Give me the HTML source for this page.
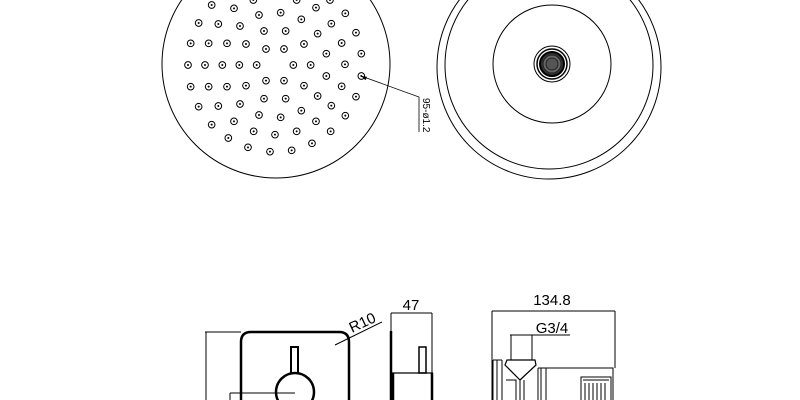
<!DOCTYPE html>
<html><head><meta charset="utf-8"><style>
html,body{margin:0;padding:0;background:#fff;}
svg{display:block;}
text{font-family:"Liberation Sans","DejaVu Sans",sans-serif;fill:#000;}
</style></head><body>
<svg width="800" height="400" viewBox="0 0 800 400" xmlns="http://www.w3.org/2000/svg">
<g fill="none" stroke="#000">
<!-- left shower head -->
<circle cx="276" cy="64" r="114" stroke-width="1"/>
<g transform="translate(160,0) scale(0.3333)" stroke-width="3">
<circle cx="155" cy="15" r="10"/><circle cx="222" cy="25" r="10"/><circle cx="297" cy="45" r="10"/><circle cx="362" cy="38" r="10"/><circle cx="424" cy="58" r="10"/><circle cx="468" cy="23" r="10"/><circle cx="556" cy="40" r="10"/><circle cx="280" cy="0" r="10"/><circle cx="410" cy="0" r="10"/><circle cx="510" cy="0" r="10"/>
<circle cx="116" cy="69" r="10"/><circle cx="175" cy="72" r="10"/><circle cx="240" cy="78" r="10"/><circle cx="312" cy="93" r="10"/><circle cx="377" cy="93" r="10"/><circle cx="473" cy="101" r="10"/><circle cx="514" cy="71" r="10"/><circle cx="588" cy="98" r="10"/>
<circle cx="92" cy="130" r="10"/><circle cx="146" cy="130" r="10"/><circle cx="201" cy="130" r="10"/><circle cx="258" cy="132" r="10"/><circle cx="318" cy="147" r="10"/><circle cx="372" cy="147" r="10"/><circle cx="432" cy="132" r="10"/><circle cx="499" cy="161" r="10"/><circle cx="545" cy="129" r="10"/><circle cx="604" cy="161" r="10"/>
<circle cx="84" cy="195" r="10"/><circle cx="135" cy="195" r="10"/><circle cx="187" cy="195" r="10"/><circle cx="238" cy="195" r="10"/><circle cx="290" cy="195" r="10"/><circle cx="400" cy="195" r="10"/><circle cx="452" cy="195" r="10"/><circle cx="555" cy="193" r="10"/>
<circle cx="92" cy="260" r="10"/><circle cx="146" cy="260" r="10"/><circle cx="201" cy="260" r="10"/><circle cx="258" cy="257" r="10"/><circle cx="318" cy="242" r="10"/><circle cx="372" cy="242" r="10"/><circle cx="432" cy="257" r="10"/><circle cx="499" cy="228" r="10"/><circle cx="545" cy="259" r="10"/><circle cx="604" cy="228" r="10"/>
<circle cx="116" cy="320" r="10"/><circle cx="175" cy="318" r="10"/><circle cx="240" cy="312" r="10"/><circle cx="312" cy="296" r="10"/><circle cx="377" cy="296" r="10"/><circle cx="473" cy="288" r="10"/><circle cx="514" cy="317" r="10"/><circle cx="588" cy="290" r="10"/>
<circle cx="155" cy="374" r="10"/><circle cx="222" cy="364" r="10"/><circle cx="297" cy="345" r="10"/><circle cx="362" cy="352" r="10"/><circle cx="424" cy="332" r="10"/><circle cx="468" cy="364" r="10"/><circle cx="556" cy="347" r="10"/>
<circle cx="205" cy="414" r="10"/><circle cx="281" cy="394" r="10"/><circle cx="345" cy="404" r="10"/><circle cx="410" cy="394" r="10"/><circle cx="512" cy="394" r="10"/>
<circle cx="264" cy="442" r="10"/><circle cx="330" cy="455" r="10"/><circle cx="395" cy="451" r="10"/><circle cx="456" cy="430" r="10"/>
</g>
<g transform="translate(160,0) scale(0.3333)" fill="#000" stroke="none">
<circle cx="155" cy="15" r="3"/><circle cx="222" cy="25" r="3"/><circle cx="297" cy="45" r="3"/><circle cx="362" cy="38" r="3"/><circle cx="424" cy="58" r="3"/><circle cx="468" cy="23" r="3"/><circle cx="556" cy="40" r="3"/><circle cx="280" cy="0" r="3"/><circle cx="410" cy="0" r="3"/><circle cx="510" cy="0" r="3"/>
<circle cx="116" cy="69" r="3"/><circle cx="175" cy="72" r="3"/><circle cx="240" cy="78" r="3"/><circle cx="312" cy="93" r="3"/><circle cx="377" cy="93" r="3"/><circle cx="473" cy="101" r="3"/><circle cx="514" cy="71" r="3"/><circle cx="588" cy="98" r="3"/>
<circle cx="92" cy="130" r="3"/><circle cx="146" cy="130" r="3"/><circle cx="201" cy="130" r="3"/><circle cx="258" cy="132" r="3"/><circle cx="318" cy="147" r="3"/><circle cx="372" cy="147" r="3"/><circle cx="432" cy="132" r="3"/><circle cx="499" cy="161" r="3"/><circle cx="545" cy="129" r="3"/><circle cx="604" cy="161" r="3"/>
<circle cx="84" cy="195" r="3"/><circle cx="135" cy="195" r="3"/><circle cx="187" cy="195" r="3"/><circle cx="238" cy="195" r="3"/><circle cx="290" cy="195" r="3"/><circle cx="400" cy="195" r="3"/><circle cx="452" cy="195" r="3"/><circle cx="555" cy="193" r="3"/>
<circle cx="92" cy="260" r="3"/><circle cx="146" cy="260" r="3"/><circle cx="201" cy="260" r="3"/><circle cx="258" cy="257" r="3"/><circle cx="318" cy="242" r="3"/><circle cx="372" cy="242" r="3"/><circle cx="432" cy="257" r="3"/><circle cx="499" cy="228" r="3"/><circle cx="545" cy="259" r="3"/><circle cx="604" cy="228" r="3"/>
<circle cx="116" cy="320" r="3"/><circle cx="175" cy="318" r="3"/><circle cx="240" cy="312" r="3"/><circle cx="312" cy="296" r="3"/><circle cx="377" cy="296" r="3"/><circle cx="473" cy="288" r="3"/><circle cx="514" cy="317" r="3"/><circle cx="588" cy="290" r="3"/>
<circle cx="155" cy="374" r="3"/><circle cx="222" cy="364" r="3"/><circle cx="297" cy="345" r="3"/><circle cx="362" cy="352" r="3"/><circle cx="424" cy="332" r="3"/><circle cx="468" cy="364" r="3"/><circle cx="556" cy="347" r="3"/>
<circle cx="205" cy="414" r="3"/><circle cx="281" cy="394" r="3"/><circle cx="345" cy="404" r="3"/><circle cx="410" cy="394" r="3"/><circle cx="512" cy="394" r="3"/>
<circle cx="264" cy="442" r="3"/><circle cx="330" cy="455" r="3"/><circle cx="395" cy="451" r="3"/><circle cx="456" cy="430" r="3"/>
</g>
<path d="M361,76 L419,97 L419,132" stroke-width="0.8"/>
<path d="M361,76 l6,0.8 l-1.5,3.5z" fill="#000" stroke="none"/>
<!-- right shower head -->
<circle cx="549" cy="67" r="112" stroke-width="1"/>
<circle cx="549" cy="65" r="104" stroke-width="1"/>
<circle cx="552" cy="64" r="59" stroke-width="1"/>
<circle cx="552" cy="64" r="18" stroke-width="1"/>
<circle cx="552" cy="64" r="15" stroke-width="1.5"/>
<circle cx="552" cy="64" r="12" fill="#333" stroke-width="2"/>
<circle cx="552" cy="64" r="9" fill="#666" stroke="#222" stroke-width="1"/>
<circle cx="552" cy="64" r="6" fill="#555" stroke="#222" stroke-width="1"/>
<!-- front view bottom -->
<path d="M241,400 V342 Q241,332 251,332 H339 Q349,332 349,342 V400" stroke-width="2.5"/>
<path d="M205,332 H241 M206,332 V400" stroke-width="1"/>
<rect x="291" y="347" width="7" height="30" stroke-width="2"/>
<circle cx="295" cy="392" r="19" stroke-width="2.5" fill="#fff"/>
<path d="M230,393 H295 M230,393 V400" stroke-width="1"/>
<path d="M335,345 L382,322" stroke-width="1"/>
<!-- side view -->
<path d="M391,331 V400" stroke-width="2.5"/>
<path d="M391,313 H432 M391,313 V331 M432,313 V400" stroke-width="1"/>
<path d="M392,373 H433" stroke-width="1.2"/>
<path d="M393,373 V400 M432,373 V400" stroke-width="2.5"/>
<rect x="419" y="347" width="7" height="26" stroke-width="1.5"/>
<!-- right view -->
<path d="M492,311 H615 M492,311 V400 M615,311 V368" stroke-width="1"/>
<path d="M510,335 H570" stroke-width="1"/>
<rect x="511" y="335" width="21" height="25" stroke-width="1"/>
<path d="M507,360 H535 L536,365 L520,380 L505,365 Z" stroke-width="1.2"/>
<path d="M493,360 V400 M497,360 V400 M502,360 V400 M493,360 H502" stroke-width="1"/>
<path d="M506,380 H516 V400 M520,380 V400 M524,380 V400" stroke-width="1"/>
<path d="M538,368 H546 M538,368 V400 M546,368 V400 M546,368 H613 V400 M541,368 V400" stroke-width="1"/>
<rect x="581" y="377" width="30" height="30" stroke-width="1"/>
<path d="M585,383 V400 M589,383 V400 M593,383 V400 M597,383 V400 M601,383 V400 M605,383 V400 M583,380 H609" stroke-width="1"/>
</g>
<text x="0" y="0" font-size="10" transform="translate(423,98) rotate(90)">95-ø1.2</text>
<text x="0" y="0" font-size="15" transform="translate(352,333) rotate(-25)">R10</text>
<text x="411" y="310" font-size="15" text-anchor="middle">47</text>
<text x="552" y="305" font-size="15" text-anchor="middle">134.8</text>
<text x="552" y="333" font-size="15" text-anchor="middle">G3/4</text>
</svg>
</body></html>
